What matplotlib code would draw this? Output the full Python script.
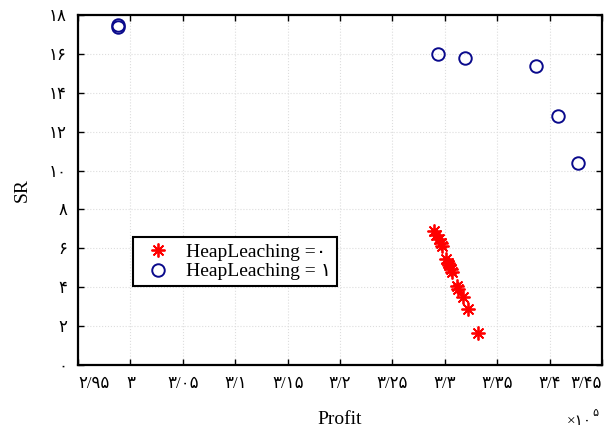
import matplotlib
matplotlib.use('Agg')
import matplotlib.pyplot as plt

# HeapLeaching = 0 (red asterisks)
profit0 = [3.290, 3.292, 3.294, 3.296, 3.297, 3.301, 3.303, 3.304, 3.306, 3.307,
           3.312, 3.313, 3.317, 3.322, 3.332]
sr0 = [6.88, 6.67, 6.47, 6.27, 6.11, 5.45, 5.24, 5.14, 4.94, 4.79,
       4.07, 3.92, 3.51, 2.90, 1.67]

# HeapLeaching = 1 (blue circles)
profit1 = [2.988, 2.988, 3.293, 3.319, 3.387, 3.408, 3.427]
sr1 = [17.50, 17.38, 16.01, 15.80, 15.36, 12.80, 10.40]

xticks = [2.95, 3.0, 3.05, 3.1, 3.15, 3.2, 3.25, 3.3, 3.35, 3.4, 3.45]
yticks = [0, 2, 4, 6, 8, 10, 12, 14, 16, 18]

fa = str.maketrans('0123456789.', '۰۱۲۳۴۵۶۷۸۹/')


def fa_num(v):
    return ('%g' % v).translate(fa)


serif = ['Liberation Serif', 'DejaVu Sans']

fig = plt.figure(figsize=(6.1, 4.28), dpi=100)
ax = fig.add_axes([0.128, 0.147, 0.859, 0.818])

ax.plot(profit0, sr0, linestyle='none', marker=(8, 2, 0), markersize=10,
        color='red', markeredgecolor='red', markeredgewidth=1.3,
        label='HeapLeaching =۰')
ax.plot(profit1, sr1, linestyle='none', marker='o', markersize=9,
        markerfacecolor='none', markeredgecolor='#0a0a8c', markeredgewidth=1.4,
        label='HeapLeaching = ۱')

ax.set_xlim(2.95, 3.45)
ax.set_ylim(0, 18)
ax.set_xticks(xticks)
ax.set_yticks(yticks)
ax.set_xticklabels([fa_num(v) for v in xticks], family=serif, fontsize=12)
ax.set_yticklabels([fa_num(v) for v in yticks], family=serif, fontsize=12)
ax.get_xticklabels()[0].set_horizontalalignment('left')
ax.get_xticklabels()[-1].set_horizontalalignment('right')
ax.tick_params(direction='in', top=True, right=True, length=4, width=1)
ax.tick_params(axis='x', pad=8)
ax.tick_params(axis='y', pad=8)
ax.grid(True, color='#dddddd', linestyle=':', linewidth=0.8)

for s in ax.spines.values():
    s.set_linewidth(1.6)

ax.set_xlabel('Profit', family=serif, fontsize=14)
ax.xaxis.set_label_coords(0.5, -0.13)
ax.set_ylabel('SR', family=serif, fontsize=14, labelpad=13)
fig.text(0.97, 1 - 425 / 428, '×۱۰', family=serif, fontsize=11,
         ha='right', va='baseline')
fig.text(0.971, 1 - 416 / 428, '۵', family=serif, fontsize=8,
         ha='left', va='baseline')

leg = ax.legend(loc='lower left', bbox_to_anchor=(0.105, 0.225),
                prop={'family': serif, 'size': 14}, fancybox=False,
                edgecolor='black', framealpha=1, borderpad=0.3,
                handletextpad=0.4, labelspacing=0.1, borderaxespad=0)
leg.get_frame().set_linewidth(1.5)

fig.savefig('out.png', dpi=100)
